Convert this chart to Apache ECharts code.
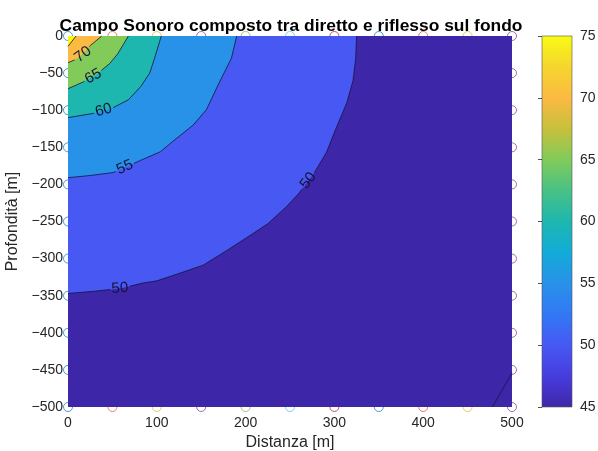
<!DOCTYPE html>
<html><head><meta charset="utf-8">
<script src="https://cdn.jsdelivr.net/npm/echarts@6/dist/echarts.min.js"></script>
<style>html,body{margin:0;padding:0;background:#fff}#c{width:598px;height:451px}</style>
</head><body><div id="c"></div>
<script>
// ---------- DATA ----------
const titleText = 'Campo Sonoro composto tra diretto e riflesso sul fondo';
const xName = 'Distanza [m]';
const yName = 'Profondità [m]';
const xGrid = [0,50,100,150,200,250,300,350,400,450,500];
const yGrid = [0,-50,-100,-150,-200,-250,-300,-350,-400,-450,-500];
const levels = [45,50,55,60,65,70,75];
// contour lines: [distanza, profondità]
const contour45 = [[478,-500],[500,-454]];
const contour50 = [[0,-347],[30,-344],[60,-340],[84,-333],[100,-330],[125,-320],[152,-309],[179,-289],[201,-272],[225,-253],[246,-230],[260,-212],[276,-187],[291,-157],[302,-124],[314,-90],[321,-60],[324,-30],[325,0]];
const contour55 = [[0,-191],[25,-188],[51,-184],[81,-168],[104,-156],[118,-142],[141,-120],[156,-99],[169,-66],[184,-30],[190,0]];
const contour60 = [[0,-110],[30,-104],[50,-97],[68,-86],[82,-68],[92,-50],[98,-28],[105,0]];
const contour65 = [[0,-71],[17,-62],[32,-52],[47,-37],[56,-24],[68,0]];
const contour70 = [[0,-36],[8,-32],[17,-24],[25,-13],[38,0]];
const contour75 = [[0,-14],[9,0]];
const contourLabels = [
  {level:70, x:17, y:-25},
  {level:65, x:28.5, y:-54.5},
  {level:60, x:40, y:-100},
  {level:55, x:64, y:-177},
  {level:50, x:58.5, y:-340},
  {level:50, x:270.6, y:-195}
];
const colorbarRange = [45,75];
const colorbarTicks = [45,50,55,60,65,70,75];

// ---------- STYLE ----------
const contours = {45:contour45,50:contour50,55:contour55,60:contour60,65:contour65,70:contour70,75:contour75};
const bandColors = {45:'rgb(62,38,168)',50:'rgb(71,88,243)',55:'rgb(40,145,232)',60:'rgb(30,183,175)',65:'rgb(130,203,90)',70:'rgb(251,186,66)',75:'rgb(249,251,21)'};
const parulaStops = [
  [0,'rgb(62,38,168)'],[0.08,'rgb(70,60,220)'],[0.167,'rgb(71,88,243)'],[0.25,'rgb(50,120,245)'],
  [0.333,'rgb(40,145,232)'],[0.42,'rgb(18,172,215)'],[0.5,'rgb(30,183,175)'],[0.58,'rgb(70,193,135)'],
  [0.667,'rgb(130,203,90)'],[0.75,'rgb(200,192,60)'],[0.833,'rgb(251,186,66)'],[0.92,'rgb(245,215,45)'],[1,'rgb(249,251,21)']];
const markerColors = ['#0072BD','#D95319','#EDB120','#7E2F8E','#77AC30','#4DBEEE','#A2142F'];
const FONT = 'Liberation Sans, Arial, sans-serif';
const TXT = '#262626';
const lineColor = '#14143a';
const minusFmt = v => String(v).replace('-', '\u2212');

function splitPolyline(pts, centers, r){
  const polys=[]; let cur=null;
  for(let i=0;i<pts.length-1;i++){
    const p=pts[i], q=pts[i+1];
    const dx=q[0]-p[0], dy=q[1]-p[1];
    const rem=[];
    for(const c of centers){
      const fx=p[0]-c[0], fy=p[1]-c[1];
      const a=dx*dx+dy*dy, b=2*(fx*dx+fy*dy), cc=fx*fx+fy*fy-r*r;
      const disc=b*b-4*a*cc;
      if(a===0||disc<=0) continue;
      let t1=(-b-Math.sqrt(disc))/(2*a), t2=(-b+Math.sqrt(disc))/(2*a);
      t1=Math.max(0,t1); t2=Math.min(1,t2);
      if(t1<t2) rem.push([t1,t2]);
    }
    rem.sort((u,v)=>u[0]-v[0]);
    const kept=[]; let s=0;
    for(const rr of rem){ if(rr[0]>s) kept.push([s,rr[0]]); s=Math.max(s,rr[1]); }
    if(s<1) kept.push([s,1]);
    const L=t=>[p[0]+dx*t,p[1]+dy*t];
    if(!kept.length){ if(cur&&cur.length>1) polys.push(cur); cur=null; }
    for(const k of kept){
      const A=L(k[0]), B=L(k[1]);
      if(k[0]===0 && cur) cur.push(B);
      else { if(cur&&cur.length>1) polys.push(cur); cur=[A,B]; }
      if(k[1]<1){ polys.push(cur); cur=null; }
    }
  }
  if(cur&&cur.length>1) polys.push(cur);
  return polys;
}

const chart = echarts.init(document.getElementById('c'), null, {renderer:'canvas'});
const series = [];

// grid point markers (under the filled contours)
xGrid.forEach((x,i)=>{
  series.push({type:'scatter', xAxisIndex:0, yAxisIndex:0, z:1, silent:true, clip:false,
    symbol:'circle', symbolSize:9,
    itemStyle:{color:'rgba(0,0,0,0)', borderColor:markerColors[i%markerColors.length], borderWidth:1, opacity:0.7},
    data: yGrid.map(y=>[x,y])});
});

// filled bands
series.push({type:'custom', xAxisIndex:0, yAxisIndex:0, z:2, silent:true,
  data: levels.map((l,i)=>[i]),
  renderItem:(params, api)=>{
    const lev = levels[api.value(0)];
    let pts;
    if(lev===levels[0]) pts=[[xGrid[0],yGrid[0]],[xGrid[xGrid.length-1],yGrid[0]],[xGrid[xGrid.length-1],yGrid[yGrid.length-1]],[xGrid[0],yGrid[yGrid.length-1]]];
    else pts = contours[lev].concat([[xGrid[0],yGrid[0]]]);
    return {type:'polygon', shape:{points:pts.map(p=>api.coord(p))}, style:{fill:bandColors[lev], stroke:null}};
  }});

// contour lines with label gaps
series.push({type:'custom', xAxisIndex:0, yAxisIndex:0, z:3, silent:true,
  data: levels.map((l,i)=>[i]),
  renderItem:(params, api)=>{
    const lev = levels[api.value(0)];
    const pts = contours[lev].map(p=>api.coord(p));
    const centers = contourLabels.filter(c=>c.level===lev).map(c=>api.coord([c.x,c.y]));
    const polys = splitPolyline(pts, centers, 10);
    return {type:'group', children: polys.map(pl=>({type:'polyline', shape:{points:pl}, style:{stroke:lineColor, lineWidth:0.8, fill:null}}))};
  }});

// contour labels
series.push({type:'custom', xAxisIndex:0, yAxisIndex:0, z:4, silent:true,
  data: contourLabels.map((c,i)=>[i]),
  renderItem:(params, api)=>{
    const c = contourLabels[api.value(0)];
    const pc = api.coord([c.x,c.y]);
    const pts = contours[c.level].map(p=>api.coord(p));
    let best=1e9, ang=0;
    for(let i=0;i<pts.length-1;i++){
      const p=pts[i], q=pts[i+1];
      const dx=q[0]-p[0], dy=q[1]-p[1];
      const t=Math.max(0,Math.min(1,((pc[0]-p[0])*dx+(pc[1]-p[1])*dy)/(dx*dx+dy*dy)));
      const ex=p[0]+dx*t-pc[0], ey=p[1]+dy*t-pc[1];
      const d=ex*ex+ey*ey;
      if(d<best){best=d; ang=Math.atan2(-dy,dx);}
    }
    if(ang>Math.PI/2) ang-=Math.PI; if(ang<-Math.PI/2) ang+=Math.PI;
    return {type:'text', x:pc[0], y:pc[1], rotation:ang,
      style:{text:String(c.level), x:0, y:0, align:'center', verticalAlign:'middle', fontSize:15, fontFamily:FONT, fill:lineColor}};
  }});

// colorbar
series.push({type:'custom', xAxisIndex:1, yAxisIndex:1, z:2, silent:true,
  data:[[0]],
  renderItem:(params, api)=>{
    const p0=api.coord([0,colorbarRange[0]]), p1=api.coord([1,colorbarRange[1]]);
    return {type:'rect', shape:{x:p0[0], y:p1[1], width:p1[0]-p0[0], height:p0[1]-p1[1]},
      style:{fill:new echarts.graphic.LinearGradient(0,1,0,0, parulaStops.map(s=>({offset:s[0], color:s[1]}))), stroke:'#555', lineWidth:0.6}};
  }});

chart.setOption({
  animation:false,
  backgroundColor:'#fff',
  title:{text:titleText, left:286, top:13, textAlign:'center',
    textStyle:{fontSize:17.4, fontWeight:'bold', color:'#000', fontFamily:FONT}},
  grid:[
    {left:68, top:36, width:444, height:371, containLabel:false, outerBoundsMode:'none'},
    {left:542, top:36, width:30, height:371, containLabel:false, outerBoundsMode:'none'}
  ],
  xAxis:[
    {type:'value', gridIndex:0, min:xGrid[0], max:xGrid[xGrid.length-1], interval:100,
      name:xName, nameLocation:'middle', nameGap:28, nameTextStyle:{fontSize:16, color:TXT, fontFamily:FONT},
      axisLine:{show:false}, axisTick:{show:false}, splitLine:{show:false},
      axisLabel:{fontSize:14, color:TXT, fontFamily:FONT, margin:9}},
    {type:'value', gridIndex:1, min:0, max:1, show:false}
  ],
  yAxis:[
    {type:'value', gridIndex:0, min:yGrid[yGrid.length-1], max:yGrid[0], interval:50,
      name:yName, nameLocation:'middle', nameGap:47, nameTextStyle:{fontSize:16, color:TXT, fontFamily:FONT},
      axisLine:{show:false}, axisTick:{show:false}, splitLine:{show:false},
      axisLabel:{fontSize:14, color:TXT, fontFamily:FONT, margin:5, formatter:minusFmt}},
    {type:'value', gridIndex:1, position:'right', min:colorbarRange[0], max:colorbarRange[1], interval:colorbarTicks[1]-colorbarTicks[0],
      axisLine:{show:false}, splitLine:{show:false},
      axisTick:{show:true, inside:true, length:4, lineStyle:{color:TXT, width:0.8}},
      axisLabel:{fontSize:14, color:TXT, fontFamily:FONT, margin:8}}
  ],
  series: series
});
</script>
</body></html>
